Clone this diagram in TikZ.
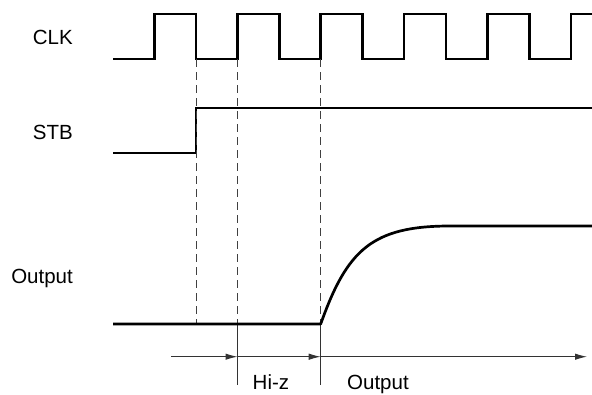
\documentclass[tikz,border=0pt]{standalone}
\usepackage{fontspec}
\setmainfont{Liberation Sans}
\usetikzlibrary{arrows.meta}
\begin{document}
\begin{tikzpicture}[x=1pt,y=-1pt,
  signal/.style={line width=2.7pt,black,line join=miter},
  guide/.style={line width=1pt,black!75,dash pattern=on 8pt off 5pt},
  thin/.style={line width=1pt,black!80},
  tarrow/.style={thin,-{Latex[length=12pt,width=6.5pt]}},
  lbl/.style={font=\fontsize{20.5}{24}\selectfont,inner sep=0pt}]
\useasboundingbox (0,0) rectangle (592,394);
% labels
\node[lbl,anchor=base east] (lclk) at (73,44) {CLK};
\node[lbl,anchor=base east] (lstb) at (73,139) {STB};
\node[lbl,anchor=base east] (lout) at (73,283) {Output};
\node[lbl,anchor=base west] (lhiz) at (252.5,389) {Hi-z};
\node[lbl,anchor=base west] (lout2) at (347,389) {Output};
% key coordinates
\coordinate (t1) at (196,59);
\coordinate (t2) at (237.5,59);
\coordinate (t3) at (320.7,59);
\coordinate (b1) at (196,324);
\coordinate (b2) at (237.5,324);
\coordinate (b3) at (320.7,324);
\coordinate (e2) at (237.5,385);
\coordinate (e3) at (320.7,385);
\coordinate (a0) at (171,356.7);
\coordinate (a1) at (237.5,356.7);
\coordinate (a2) at (320.7,356.7);
\coordinate (a3) at (587,356.7);
% clock
\draw[signal] (113,59) -- (154.5,59) -- (154.5,14) -- (196,14) -- (196,59)
  -- (237.5,59) -- (237.5,14) -- (279.2,14) -- (279.2,59) -- (320.7,59)
  -- (320.7,14) -- (362.5,14) -- (362.5,59) -- (404,59) -- (404,14)
  -- (446,14) -- (446,59) -- (487.7,59) -- (487.7,14) -- (529.3,14)
  -- (529.3,59) -- (571,59) -- (571,14) -- (592,14);
% strobe
\draw[signal] (113,153) -- (196,153) -- (196,108) -- (592,108);
% guides
\draw[guide] (t1) -- (b1);
\draw[guide] (t2) -- (b2);
\draw[guide] (t3) -- (b3);
\draw[thin] (b2) -- (e2);
\draw[thin] (b3) -- (e3);
% output
\draw[signal,line join=round] (113,324) -- (b3)
  .. controls (347,250) and (372,226) .. (450,226) -- (592,226);
% arrows
\draw[tarrow] (a0) -- (a1);
\draw[tarrow] (a1) -- (a2);
\draw[tarrow] (a2) -- (a3);
\end{tikzpicture}
\end{document}
